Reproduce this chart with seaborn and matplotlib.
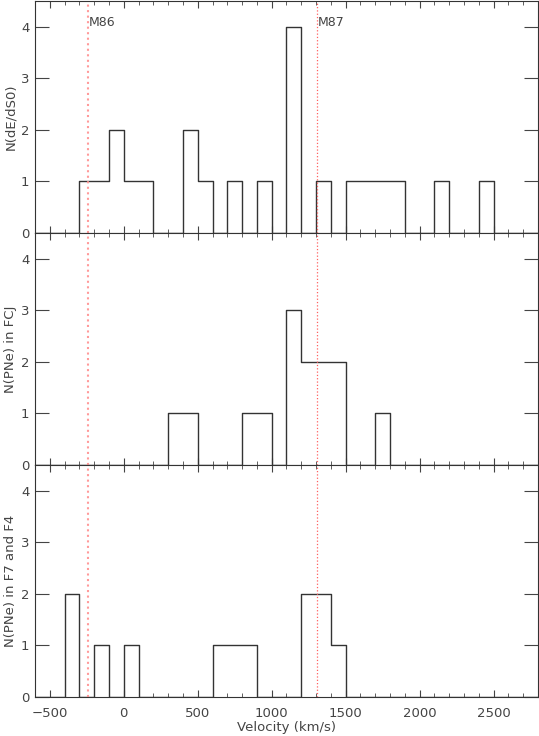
import pandas as pd
import seaborn as sns
import matplotlib.pyplot as plt
from matplotlib.ticker import MultipleLocator

# histogram bins (km/s): centers of the filled 100 km/s bins and their counts
de_centers = [-250, -150, -50, 50, 150, 450, 550, 750, 950, 1150, 1350,
              1550, 1650, 1750, 1850, 2150, 2450]
de_counts = [1, 1, 2, 1, 1, 2, 1, 1, 1, 4, 1, 1, 1, 1, 1, 1, 1]

fcj_centers = [350, 450, 850, 950, 1150, 1250, 1350, 1450, 1750]
fcj_counts = [1, 1, 1, 1, 3, 2, 2, 2, 1]

f74_centers = [-350, -150, 50, 650, 750, 850, 1250, 1350, 1450]
f74_counts = [2, 1, 1, 1, 1, 1, 2, 2, 1]

panel_labels = ["N(dE/dS0)", "N(PNe) in FCJ", "N(PNe) in F7 and F4"]
v_m86 = -244
v_m87 = 1307

sns.set_style("ticks")
plt.rcParams["font.family"] = ["DejaVu Sans"]
plt.rcParams["axes.linewidth"] = 0.8

fig, axes = plt.subplots(3, 1, figsize=(5.39, 7.36), dpi=100, sharex=True)
fig.subplots_adjust(left=0.065, right=0.998, top=0.999, bottom=0.053, hspace=0)

data = [(de_centers, de_counts), (fcj_centers, fcj_counts), (f74_centers, f74_counts)]
txt = "#444444"

for ax, (cen, cnt), lab in zip(axes, data, panel_labels):
    df = pd.DataFrame({"v": cen, "n": cnt})
    sns.histplot(data=df, x="v", weights="n", binwidth=100, binrange=(-600, 2800),
                 element="step", fill=False, color="#333333", linewidth=1.0, ax=ax)
    ax.axvline(v_m86, color="#ff9a9a", ls=":", lw=1.5)
    ax.axvline(v_m87, color="#ff6060", ls=":", lw=0.9)
    ax.set_xlim(-600, 2800)
    ax.set_ylim(0, 4.5)
    ax.set_ylabel(lab, fontsize=9.5, color=txt, labelpad=3)
    ax.set_xlabel("")
    ax.yaxis.set_major_locator(MultipleLocator(1))
    ax.xaxis.set_major_locator(MultipleLocator(500))
    ax.xaxis.set_minor_locator(MultipleLocator(100))
    ax.tick_params(which="both", direction="in", top=True, right=True,
                   colors=txt, labelsize=9.5)
    ax.tick_params(axis="x", which="major", length=5, width=0.8, pad=7)
    ax.tick_params(axis="x", which="minor", length=3, width=0.6)
    ax.tick_params(axis="y", which="major", length=10, width=0.8, pad=4)
    for s in ax.spines.values():
        s.set_color("#333333")

axes[0].text(v_m86 + 5, 4.08, "M86", fontsize=9, color=txt, va="center")
axes[0].text(v_m87 + 5, 4.08, "M87", fontsize=9, color=txt, va="center")
axes[2].set_xlabel("Velocity (km/s)", fontsize=9.5, color=txt, labelpad=1)

fig.savefig("out.png", dpi=100)
